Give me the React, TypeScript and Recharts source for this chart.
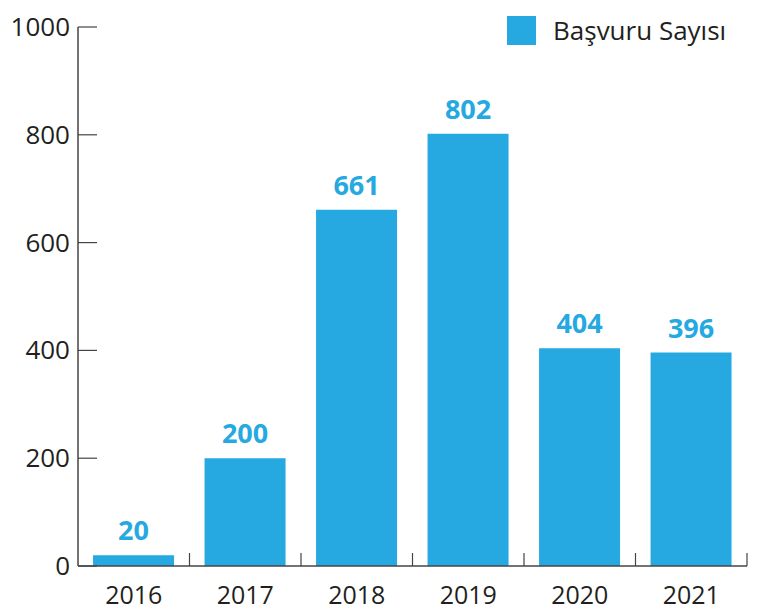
import { BarChart, Bar, XAxis, YAxis, Legend, LabelList } from 'recharts'

const years = ['2016', '2017', '2018', '2019', '2020', '2021']
const applications = [20, 200, 661, 802, 404, 396]
const yTicks = [0, 200, 400, 600, 800, 1000]

const data = years.map((year, i) => ({ year, basvuru: applications[i] }))

const W = 768
const H = 611
const M = { top: 27, right: 21, left: 0, bottom: 0 }
const Y_W = 78
const X_H = 45
const BLUE = '#26a9e0'
const INK = '#231f20'
const AXIS = '#444'
const FONT = '"Open Sans", sans-serif'
const bandW = (W - M.right - Y_W) / years.length

const YTick = (props: any) => {
  const { x, y, payload } = props
  return (
    <g>
      <line x1={Y_W} x2={Y_W + 19} y1={y} y2={y} stroke={AXIS} strokeWidth={1.2} />
      <text x={x} y={y} dy={9} textAnchor="end" fontSize={26} fill={INK} fontFamily={FONT}>
        {payload.value}
      </text>
    </g>
  )
}

const XTick = (props: any) => {
  const { x, payload } = props
  const axisY = H - X_H
  return (
    <g>
      <line x1={x + bandW / 2} x2={x + bandW / 2} y1={axisY} y2={axisY - 13} stroke={AXIS} strokeWidth={1.2} />
      <text x={x} y={axisY + 38} textAnchor="middle" fontSize={25} fill={INK} fontFamily={FONT}>
        {payload.value}
      </text>
    </g>
  )
}

const LegendBox = () => (
  <div style={{ display: 'flex', alignItems: 'center', fontFamily: FONT }}>
    <span style={{ width: 29, height: 29, background: BLUE, display: 'inline-block', marginRight: 17 }} />
    <span style={{ fontSize: 26, color: INK }}>Başvuru Sayısı</span>
  </div>
)

export default function App() {
  return (
    <div style={{ position: 'absolute', left: 0, top: 0, width: W, height: H, background: '#fff' }}>
      <BarChart width={W} height={H} data={data} margin={M} barCategoryGap="13.5%">
        <XAxis
          dataKey="year"
          height={X_H}
          tickLine={false}
          axisLine={{ stroke: AXIS, strokeWidth: 1.5 }}
          tick={<XTick />}
          interval={0}
        />
        <YAxis
          width={Y_W}
          domain={[0, 1000]}
          ticks={yTicks}
          tickLine={false}
          axisLine={{ stroke: AXIS, strokeWidth: 1.5 }}
          tick={<YTick />}
          tickMargin={2}
          interval={0}
        />
        <Legend
          layout="horizontal"
          verticalAlign="middle"
          align="center"
          content={<LegendBox />}
          wrapperStyle={{ top: 12, left: 507, width: 'auto' }}
        />
        <Bar dataKey="basvuru" name="Başvuru Sayısı" fill={BLUE} isAnimationActive={false}>
          <LabelList
            dataKey="basvuru"
            position="top"
            offset={15}
            fill={BLUE}
            fontSize={27}
            fontWeight={700}
            fontFamily={FONT}
          />
        </Bar>
      </BarChart>
    </div>
  )
}
